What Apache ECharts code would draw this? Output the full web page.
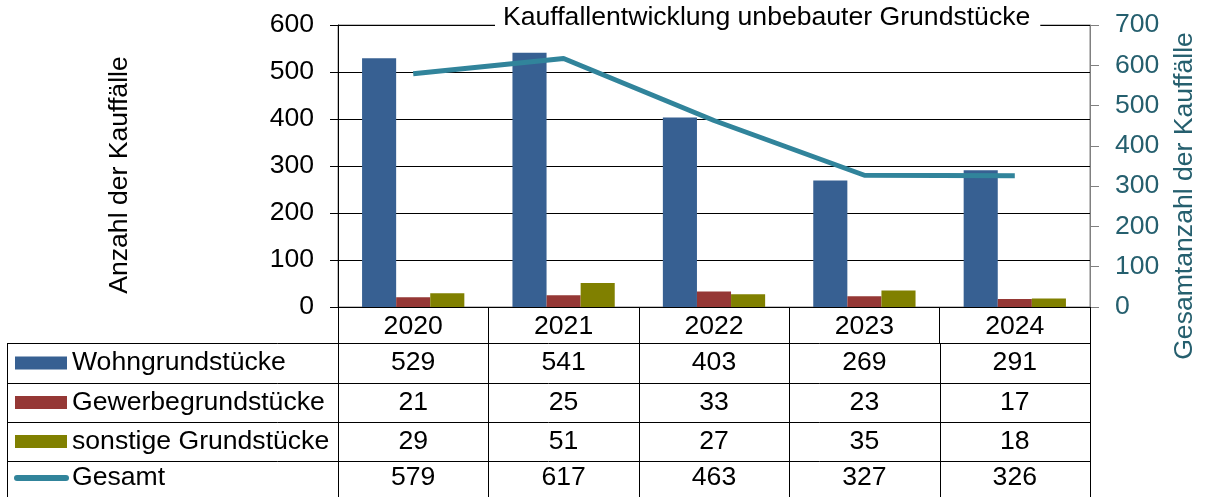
<!DOCTYPE html>
<html><head><meta charset="utf-8">
<script src="https://cdn.jsdelivr.net/npm/echarts@6/dist/echarts.min.js"></script>
<style>html,body{margin:0;padding:0;background:#fff}#c{width:1205px;height:497px}</style>
</head><body><div id="c"></div>
<script>
// ---- data ----
const years = ['2020', '2021', '2022', '2023', '2024'];
const wohn = [529, 541, 403, 269, 291];
const gewerbe = [21, 25, 33, 23, 17];
const sonstige = [29, 51, 27, 35, 18];
const gesamt = [579, 617, 463, 327, 326];
const seriesNames = ['Wohngrundstücke', 'Gewerbegrundstücke', 'sonstige Grundstücke', 'Gesamt'];
const titleText = 'Kauffallentwicklung unbebauter Grundstücke';
const leftAxisName = 'Anzahl der Kauffälle';
const rightAxisName = 'Gesamtanzahl der Kauffälle';

// ---- style ----
const FONT = '"Liberation Sans", Arial, sans-serif';
const colors = ['#376092', '#953735', '#808000', '#31849B'];
const teal = '#255f6e';
const FS = 26.6;

const chart = echarts.init(document.getElementById('c'), null, { renderer: 'canvas' });
const barBase = { type: 'bar', barGap: '0%', barCategoryGap: '32%' };
const option = {
  animation: false,
  backgroundColor: '#fff',
  title: {
    text: titleText, left: 495, top: 0, padding: [4, 10, 4, 8], backgroundColor: '#fff',
    textStyle: { fontFamily: FONT, fontSize: FS, fontWeight: 'normal', color: '#000' }
  },
  grid: { left: 338, right: 115, top: 25, bottom: 190, show: true, borderColor: '#808080', borderWidth: 1 },
  xAxis: {
    type: 'category', data: years,
    axisLine: { lineStyle: { color: '#000', width: 1 } },
    axisTick: { show: true, length: 36, lineStyle: { color: '#000' } },
    axisLabel: { fontFamily: FONT, fontSize: FS, color: '#000', margin: 6 }
  },
  yAxis: [
    {
      type: 'value', min: 0, max: 600, interval: 100,
      axisLine: { show: true, lineStyle: { color: '#000' } },
      axisTick: { show: true, length: 8, lineStyle: { color: '#000' } },
      axisLabel: { fontFamily: FONT, fontSize: FS, color: '#000', margin: 24 },
      splitLine: { lineStyle: { color: '#000', width: 1 } }
    },
    {
      type: 'value', min: 0, max: 700, interval: 100, position: 'right',
      axisLine: { show: true, lineStyle: { color: '#808080' } },
      axisTick: { show: true, length: 9, lineStyle: { color: '#808080' } },
      axisLabel: { fontFamily: FONT, fontSize: FS, color: teal, margin: 25 },
      splitLine: { show: false }
    }
  ],
  series: [
    Object.assign({ name: seriesNames[0], data: wohn, itemStyle: { color: colors[0] } }, barBase),
    Object.assign({ name: seriesNames[1], data: gewerbe, itemStyle: { color: colors[1] } }, barBase),
    Object.assign({ name: seriesNames[2], data: sonstige, itemStyle: { color: colors[2] } }, barBase),
    {
      name: seriesNames[3], type: 'line', yAxisIndex: 1, data: gesamt, symbol: 'none',
      lineStyle: { width: 5, color: colors[3] }, z: 5
    }
  ]
};
chart.setOption(option);

// ---- data table below the axis, positioned via the category axis ----
const centers = years.map((y, i) => chart.convertToPixel({ xAxisIndex: 0 }, i));
const step = centers.length > 1 ? centers[1] - centers[0] : 150;
const bounds = [centers[0] - step / 2].concat(centers.map(c => c + step / 2));
const tableLeft = 7;
const rowEdges = [343, 383, 422, 461, 497];
const rows = [wohn, gewerbe, sonstige, gesamt];
const g = [];
const ln = (x1, y1, x2, y2) => g.push({ type: 'line', shape: { x1, y1, x2, y2 }, style: { stroke: '#000', lineWidth: 1 }, silent: true });
rowEdges.slice(0, -1).forEach(y => ln(tableLeft, y + 0.5, bounds[bounds.length - 1], y + 0.5));
ln(tableLeft + 0.5, rowEdges[0], tableLeft + 0.5, rowEdges[rowEdges.length - 1]);
bounds.forEach(x => ln(Math.round(x) + 0.5, rowEdges[0], Math.round(x) + 0.5, rowEdges[rowEdges.length - 1]));
ln(Math.round(bounds[bounds.length - 1]) + 0.5, 307, Math.round(bounds[bounds.length - 1]) + 0.5, rowEdges[0]);
rows.forEach((vals, r) => {
  const cy = (rowEdges[r] + rowEdges[r + 1]) / 2 - (r === 3 ? 1 : 0);
  if (r < 3) {
    g.push({ type: 'rect', shape: { x: 15, y: cy - 6.5, width: 52, height: 13 }, style: { fill: colors[r] }, silent: true });
  } else {
    g.push({ type: 'line', shape: { x1: 17, y1: cy, x2: 66, y2: cy }, style: { stroke: colors[r], lineWidth: 6, lineCap: 'round' }, silent: true });
  }
  g.push({ type: 'text', x: 72, y: cy, style: { text: seriesNames[r], fontFamily: FONT, fontSize: FS, fill: '#000', textAlign: 'left', textVerticalAlign: 'middle' }, silent: true });
  vals.forEach((v, i) => {
    g.push({ type: 'text', x: centers[i], y: cy, style: { text: String(v), fontFamily: FONT, fontSize: FS, fill: '#000', textAlign: 'center', textVerticalAlign: 'middle' }, silent: true });
  });
});
// axis names
g.push({ type: 'text', x: 120, y: 175, rotation: Math.PI / 2, style: { text: leftAxisName, fontFamily: FONT, fontSize: FS, fill: '#000', textAlign: 'center', textVerticalAlign: 'middle' }, silent: true });
g.push({ type: 'text', x: 1185, y: 196, rotation: Math.PI / 2, style: { text: rightAxisName, fontFamily: FONT, fontSize: FS, fill: teal, textAlign: 'center', textVerticalAlign: 'middle' }, silent: true });
chart.setOption({ graphic: g });
</script>
</body></html>
